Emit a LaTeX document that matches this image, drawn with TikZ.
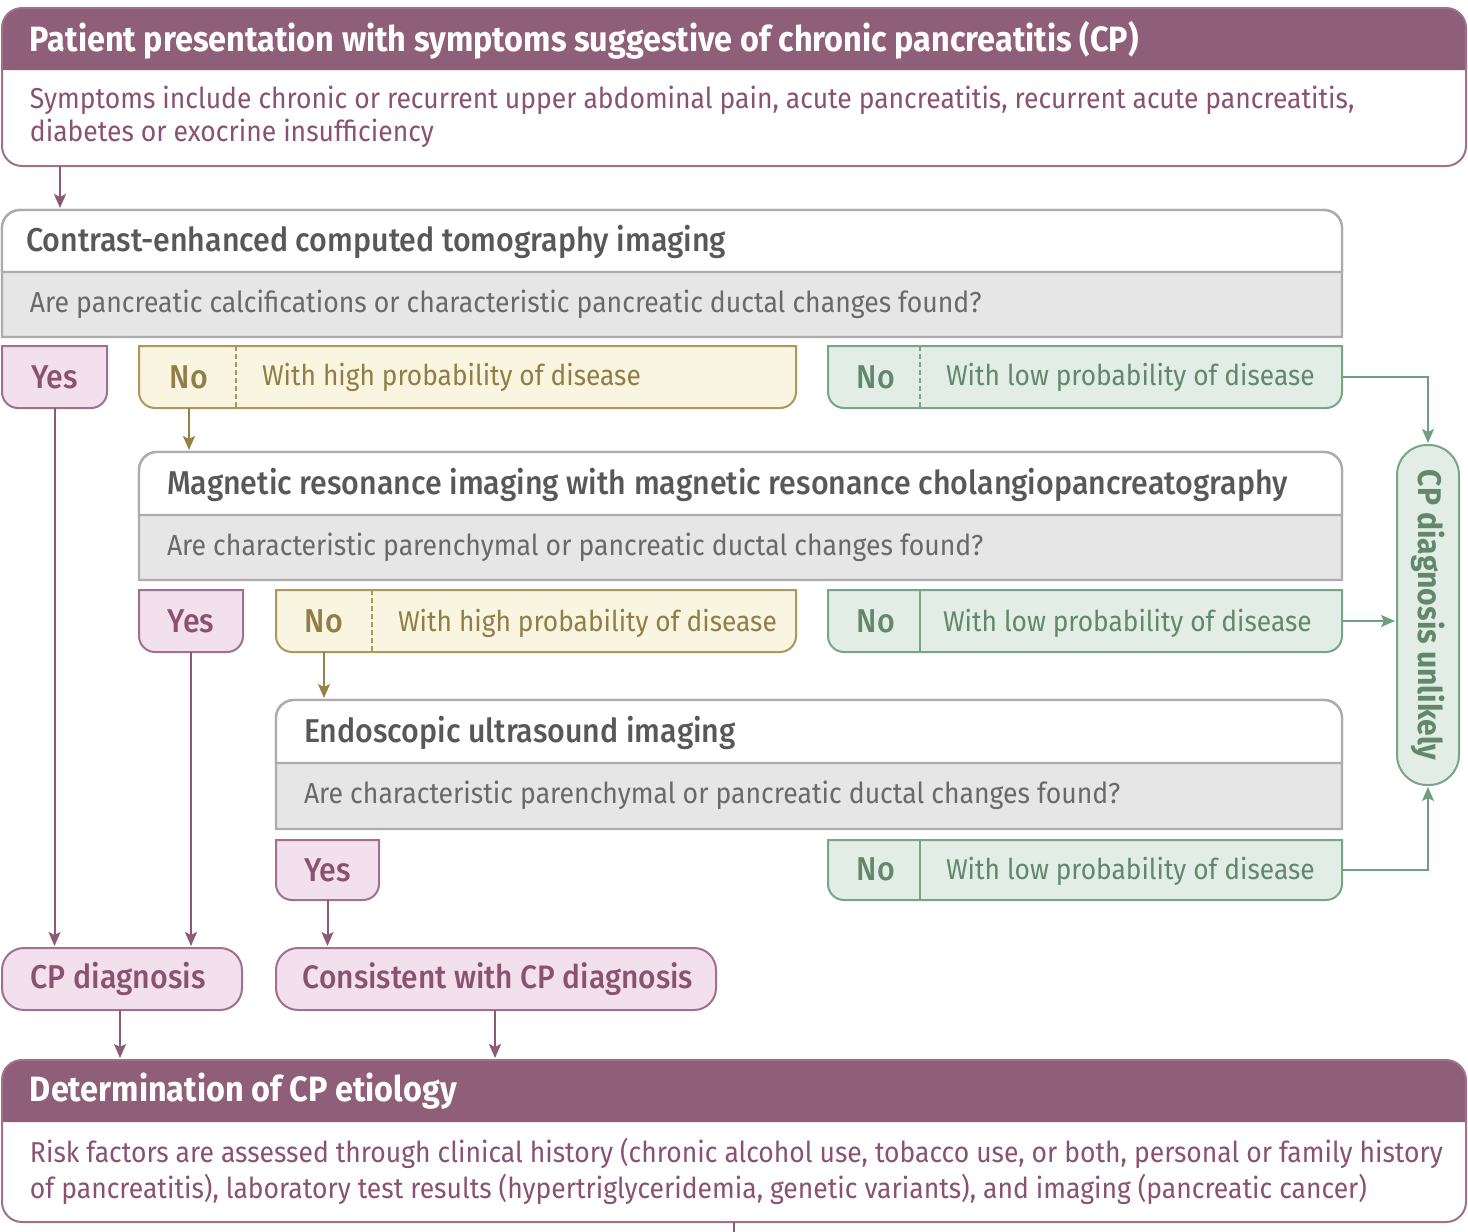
\documentclass[tikz,border=0pt]{standalone}
\usepackage{fontspec}
\setmainfont{Fira Sans}[FakeStretch=0.92]
\newfontfamily\medfont{Fira Sans Medium}[FakeStretch=0.92]
\usetikzlibrary{arrows.meta,calc}
\pgfdeclarelayer{bg}
\pgfsetlayers{bg,main}
\definecolor{pur}{RGB}{143,94,120}
\definecolor{purtext}{RGB}{138,82,112}
\definecolor{pinkfill}{RGB}{242,225,236}
\definecolor{pinkborder}{RGB}{160,112,140}
\definecolor{grayfill}{RGB}{230,230,230}
\definecolor{grayborder}{RGB}{172,172,172}
\definecolor{graytitle}{RGB}{88,88,88}
\definecolor{grayq}{RGB}{105,105,105}
\definecolor{yfill}{RGB}{249,245,225}
\definecolor{yborder}{RGB}{170,152,95}
\definecolor{ytext}{RGB}{145,125,70}
\definecolor{gfill}{RGB}{226,238,229}
\definecolor{gborder}{RGB}{120,165,135}
\definecolor{gtext}{RGB}{98,135,108}
\definecolor{arrpur}{RGB}{140,90,115}
\definecolor{arrol}{RGB}{150,130,70}
\definecolor{arrgr}{RGB}{110,160,125}
\newcommand\boxnode[5]{\node[frame, minimum width={#4-#2}, minimum height={#5-#3}] (#1) at ({(#2+#4)/2},{-(#3+#5)/2}) {};}
\newcommand\shapeBot[3]{\draw[#3] (#1.north west) -- ([yshift=#2pt]#1.south west) arc[start angle=180,end angle=270,radius=#2pt] -- ([xshift=-#2pt]#1.south east) arc[start angle=270,end angle=360,radius=#2pt] -- (#1.north east) -- cycle;}
\newcommand\shapeTop[3]{\draw[#3] (#1.south west) -- ([yshift=-#2pt]#1.north west) arc[start angle=180,end angle=90,radius=#2pt] -- ([xshift=-#2pt]#1.north east) arc[start angle=90,end angle=0,radius=#2pt] -- (#1.south east) -- cycle;}
\begin{document}
\begin{tikzpicture}[x=1pt,y=1pt,
  frame/.style={inner sep=0pt, outer sep=0pt, draw=none},
  txt/.style={inner sep=0pt, outer sep=0pt, align=left},
  htext/.style={txt, text=white, font=\fontsize{35.2}{40}\selectfont\bfseries},
  btext/.style={txt, text=purtext, font=\fontsize{28.8}{33}\selectfont},
  ttext/.style={txt, text=graytitle, font=\fontsize{33}{38}\selectfont\medfont},
  qtext/.style={txt, text=grayq, font=\fontsize{28.9}{33}\selectfont},
  yestext/.style={txt, text=purtext, font=\fontsize{33}{38}\selectfont\medfont},
  ynotext/.style={txt, text=ytext, font=\fontsize{33}{38}\selectfont\medfont},
  ydesc/.style={txt, text=ytext, font=\fontsize{28.6}{33}\selectfont},
  gnotext/.style={txt, text=gtext, font=\fontsize{33}{38}\selectfont\medfont},
  gdesc/.style={txt, text=gtext, font=\fontsize{28.6}{33}\selectfont},
  unltext/.style={txt, text=gtext, font=\fontsize{32.7}{38}\selectfont\bfseries},
  dxtext/.style={txt, text=purtext, font=\fontsize{33}{38}\selectfont\medfont},
  yesbox/.style={fill=pinkfill, draw=pinkborder, line width=2pt},
  ybox/.style={fill=yfill, draw=yborder, line width=2pt},
  gbox/.style={fill=gfill, draw=gborder, line width=2pt},
  graybox/.style={fill=grayfill, draw=grayborder, line width=2.4pt},
  whitebox/.style={fill=white, draw=grayborder, line width=2.4pt},
  tip/.style={-{Stealth[length=14pt,width=12pt,inset=3pt]}, shorten >=2pt},
  parr/.style={draw=arrpur, line width=2pt, tip},
  oarr/.style={draw=arrol, line width=2pt, tip},
  garr/.style={draw=arrgr, line width=2pt, tip},
  ydiv/.style={draw=yborder, line width=1.5pt, dash pattern=on 5pt off 3pt},
  gdivd/.style={draw=gborder, line width=1.5pt, dash pattern=on 5pt off 3pt},
  gdiv/.style={draw=gborder, line width=1.5pt}
]
\useasboundingbox (0,0) rectangle (1468,-1232);
% frames
\boxnode{top}{2}{8}{1466}{166}
\boxnode{toph}{2}{8}{1466}{70}
\boxnode{ct}{2}{210}{1342}{337}
\boxnode{cth}{2}{210}{1342}{272}
\boxnode{yes1}{2}{346}{107}{408}
\boxnode{nh1}{139}{346}{796}{408}
\boxnode{nl1}{828}{346}{1342}{408}
\boxnode{mri}{139}{452}{1342}{580}
\boxnode{mrih}{139}{452}{1342}{515}
\boxnode{yes2}{139}{590}{243}{652}
\boxnode{nh2}{276}{590}{796}{652}
\boxnode{nl2}{828}{590}{1342}{652}
\boxnode{eus}{276}{700}{1342}{829}
\boxnode{eush}{276}{700}{1342}{763}
\boxnode{yes3}{276}{840}{379}{900}
\boxnode{nl3}{828}{840}{1342}{900}
\boxnode{unl}{1397}{445}{1459}{785}
\boxnode{cpd}{2}{948}{242}{1010}
\boxnode{ccp}{276}{948}{716}{1010}
\boxnode{det}{2}{1060}{1466}{1222}
\boxnode{deth}{2}{1060}{1466}{1122}
% texts
\node[htext, anchor=west] (t-top) at (30,-40) {Patient presentation with symptoms suggestive of chronic pancreatitis (CP)};
\node[btext, anchor=west] (b-top) at (30,-117) {Symptoms include chronic or recurrent upper abdominal pain, acute pancreatitis, recurrent acute pancreatitis,\\diabetes or exocrine insufficiency};
\node[ttext, anchor=west] (t-ct) at (26,-242) {Contrast-enhanced computed tomography imaging};
\node[qtext, anchor=west] (q-ct) at (30,-304) {Are pancreatic calcifications or characteristic pancreatic ductal changes found?};
\node[yestext] (yes1t) at (yes1) {Yes};
\node[ynotext] (nh1no) at (189,-377) {No};
\node[ydesc, anchor=west] (nh1t) at (262,-377) {With high probability of disease};
\node[gnotext] (nl1no) at (876,-377) {No};
\node[gdesc, anchor=west] (nl1t) at (946,-377) {With low probability of disease};
\node[ttext, anchor=west] (t-mri) at (167,-485) {Magnetic resonance imaging with magnetic resonance cholangiopancreatography};
\node[qtext, anchor=west] (q-mri) at (167,-547) {Are characteristic parenchymal or pancreatic ductal changes found?};
\node[yestext] (yes2t) at (yes2) {Yes};
\node[ynotext] (nh2no) at (324,-621) {No};
\node[ydesc, anchor=west] (nh2t) at (398,-623) {With high probability of disease};
\node[gnotext] (nl2no) at (876,-621) {No};
\node[gdesc, anchor=west] (nl2t) at (943,-623) {With low probability of disease};
\node[ttext, anchor=west] (t-eus) at (304,-733) {Endoscopic ultrasound imaging};
\node[qtext, anchor=west] (q-eus) at (304,-795) {Are characteristic parenchymal or pancreatic ductal changes found?};
\node[yestext] (yes3t) at (yes3) {Yes};
\node[gnotext] (nl3no) at (876,-869) {No};
\node[gdesc, anchor=west] (nl3t) at (946,-871) {With low probability of disease};
\node[unltext, rotate=-90] (unlt) at (unl) {CP diagnosis unlikely};
\node[dxtext] (cpdt) at ([xshift=-4pt]cpd.center) {CP diagnosis};
\node[dxtext, font=\fontsize{32.5}{38}\selectfont\medfont] (ccpt) at ([xshift=2pt]ccp.center) {Consistent with CP diagnosis};
\node[htext, anchor=west] (t-det) at (30,-1091) {Determination of CP etiology};
\node[btext, anchor=west, font=\fontsize{28.8}{36}\selectfont] (b-det) at (30,-1171) {Risk factors are assessed through clinical history (chronic alcohol use, tobacco use, or both, personal or family history\\of pancreatitis), laboratory test results (hypertriglyceridemia, genetic variants), and imaging (pancreatic cancer)};
\coordinate (endstub) at (734,-1232);
% backgrounds
\begin{pgfonlayer}{bg}
\fill[white, rounded corners=20pt] (top.north west) rectangle (top.south east);
\shapeTop{toph}{20}{fill=pur, draw=none}
\draw[pinkborder, line width=2pt, rounded corners=20pt] (top.north west) rectangle (top.south east);
\fill[white, rounded corners=20pt] (det.north west) rectangle (det.south east);
\shapeTop{deth}{20}{fill=pur, draw=none}
\draw[pinkborder, line width=2pt, rounded corners=20pt] (det.north west) rectangle (det.south east);
\shapeTop{ct}{18}{graybox}
\shapeTop{cth}{18}{whitebox}
\shapeTop{mri}{18}{graybox}
\shapeTop{mrih}{18}{whitebox}
\shapeTop{eus}{18}{graybox}
\shapeTop{eush}{18}{whitebox}
\shapeBot{yes1}{16}{yesbox}
\shapeBot{yes2}{16}{yesbox}
\shapeBot{yes3}{16}{yesbox}
\shapeBot{nh1}{16}{ybox}
\shapeBot{nh2}{16}{ybox}
\shapeBot{nl1}{16}{gbox}
\shapeBot{nl2}{16}{gbox}
\shapeBot{nl3}{16}{gbox}
\draw[ydiv] ([xshift=97pt]nh1.north west) -- ([xshift=97pt]nh1.south west);
\draw[ydiv] ([xshift=96pt]nh2.north west) -- ([xshift=96pt]nh2.south west);
\draw[gdivd] ([xshift=92pt]nl1.north west) -- ([xshift=92pt]nl1.south west);
\draw[gdiv] ([xshift=92pt]nl2.north west) -- ([xshift=92pt]nl2.south west);
\draw[gdiv] ([xshift=92pt]nl3.north west) -- ([xshift=92pt]nl3.south west);
\draw[gbox, rounded corners=30pt] (unl.north west) rectangle (unl.south east);
\draw[yesbox, rounded corners=22pt] (cpd.north west) rectangle (cpd.south east);
\draw[yesbox, rounded corners=22pt] (ccp.north west) rectangle (ccp.south east);
\end{pgfonlayer}
% connectors
\draw[parr] ([xshift=58pt]top.south west) -- ([xshift=58pt]top.south west |- ct.north);
\draw[parr] (yes1.south) -- (yes1.south |- cpd.north);
\draw[parr] (yes2.south) -- (yes2.south |- cpd.north);
\draw[parr] (yes3.south) -- (yes3.south |- ccp.north);
\draw[oarr] (nh1no |- nh1.south) -- (nh1no |- mri.north);
\draw[oarr] (nh2no |- nh2.south) -- (nh2no |- eus.north);
\draw[garr] (nl1.east) -- (unl.north |- nl1.east) -- (unl.north);
\draw[garr] (nl2.east) -- (unl.west |- nl2.east);
\draw[garr] (nl3.east) -- (unl.south |- nl3.east) -- (unl.south);
\draw[parr] ([xshift=-2pt]cpd.south) -- ([xshift=-2pt]cpd.south |- det.north);
\draw[parr] ([xshift=-1pt]ccp.south) -- ([xshift=-1pt]ccp.south |- det.north);
\draw[draw=arrpur, line width=2pt] (det.south) -- (endstub);
\end{tikzpicture}
\end{document}
